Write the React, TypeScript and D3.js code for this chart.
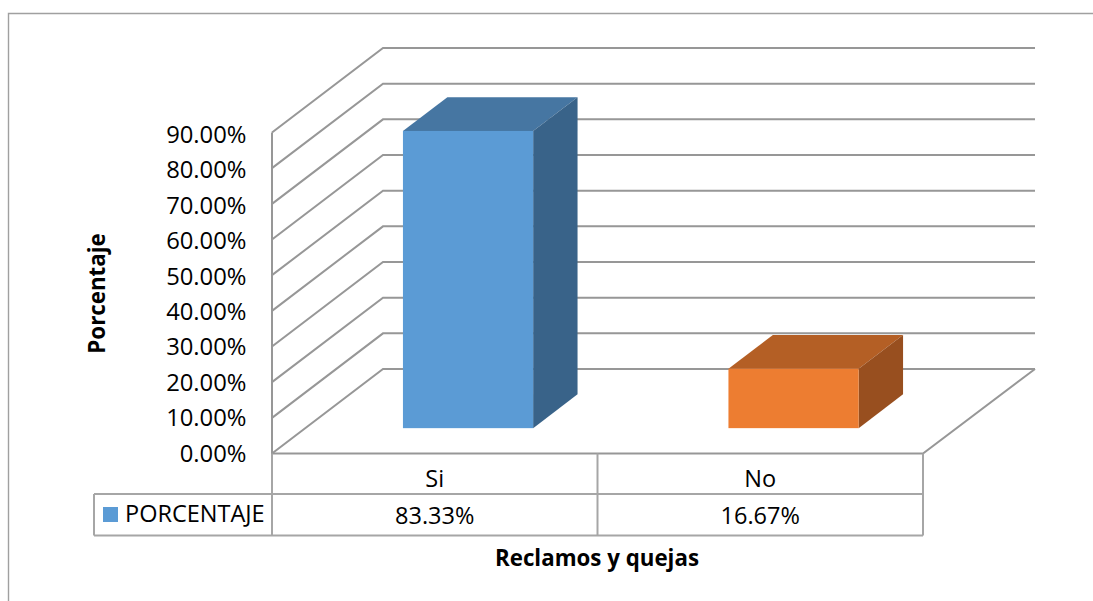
import React from "react";
import * as d3 from "d3";

const categories = ["Si", "No"];
const seriesName = "PORCENTAJE";
const values = [83.33, 16.67];
const valueLabels = ["83.33%", "16.67%"];
const ticks = [0, 10, 20, 30, 40, 50, 60, 70, 80, 90];
const barColors = [
  { front: "#5b9bd5", top: "#4676a2", side: "#396389" },
  { front: "#ed7d31", top: "#b45f25", side: "#984f1f" },
];

const FONT = "'Open Sans', 'Noto Sans', sans-serif";
const GRID = "#979797";
const wallX = 272;
const floorRight = 923;
const depthX = 111;
const depthY = -84.5;
const y = d3.scaleLinear().domain([0, 90]).range([453.5, 132.5]);
const labelY = d3.scaleLinear().domain([0, 90]).range([461.5, 143]);
const x = d3.scaleBand<string>().domain(categories).range([wallX, floorRight]);
const backRight = 1035;
const barFrontDepth = 0.3;
const barDepth = 0.4;

export default function App() {
  const y0 = y(0);
  const barW = x.bandwidth() * 0.4;
  return (
    <svg
      width={1093}
      height={601}
      style={{ position: "absolute", left: 0, top: 0, background: "#fff" }}
      fontFamily={FONT}
    >
      <path d="M8.5 601V13.5H1093" fill="none" stroke="#a0a0a0" strokeWidth={1.4} />

      {/* gridlines */}
      <g fill="none" stroke={GRID} strokeWidth={2}>
        {ticks.map((t) => (
          <path
            key={t}
            d={`M${wallX} ${y(t)}L${wallX + depthX} ${y(t) + depthY}H${backRight}`}
          />
        ))}
        <path d={`M${wallX} ${y(90)}V${y0}H${floorRight}L${backRight} ${y0 + depthY}`} />
      </g>

      {/* bars */}
      {categories.map((c, i) => {
        const xl = x(c)! + (x.bandwidth() - barW) / 2 + depthX * barFrontDepth;
        const xr = xl + barW;
        const base = y0 + depthY * barFrontDepth;
        const top = base - (y0 - y(values[i]));
        const dx = depthX * barDepth;
        const dy = depthY * barDepth;
        return (
          <g key={c}>
            <path d={`M${xl} ${top}L${xl + dx} ${top + dy}H${xr + dx}L${xr} ${top}Z`} fill={barColors[i].top} />
            <path d={`M${xr} ${top}L${xr + dx} ${top + dy}V${base + dy}L${xr} ${base}Z`} fill={barColors[i].side} />
            <rect x={xl} y={top} width={barW} height={base - top} fill={barColors[i].front} />
          </g>
        );
      })}

      {/* y tick labels */}
      <g fontSize={23.8} textAnchor="end" fill="#000">
        {ticks.map((t) => (
          <text key={t} x={246.5} y={labelY(t)}>{`${t.toFixed(2)}%`}</text>
        ))}
      </g>

      {/* data table */}
      <g fill="none" stroke="#a6a6a6" strokeWidth={2}>
        <path d={`M${wallX} ${y0}V535.5`} />
        <path d={`M${x("No")!} ${y0}V535.5`} />
        <path d={`M${floorRight} ${y0}V535.5`} />
        <path d={`M94 494H${floorRight}M94 535.5H${floorRight}M94 494V535.5`} />
      </g>
      <rect x={103} y={507} width={15} height={15} fill={barColors[0].front} />
      <text x={125} y={521.7} fontSize={23.5} fill="#000">{seriesName}</text>
      {categories.map((c, i) => (
        <g key={c} fontSize={23.5} textAnchor="middle" fill="#000">
          <text x={x(c)! + x.bandwidth() / 2} y={487}>{c}</text>
          <text x={x(c)! + x.bandwidth() / 2} y={523.7}>{valueLabels[i]}</text>
        </g>
      ))}

      {/* axis titles */}
      <text x={597} y={566} fontSize={22.3} fontWeight={700} textAnchor="middle" fill="#000">
        Reclamos y quejas
      </text>
      <text
        transform="translate(105 293.5) rotate(-90)"
        fontSize={22.3}
        fontWeight={700}
        textAnchor="middle"
        fill="#000"
      >
        Porcentaje
      </text>
    </svg>
  );
}
